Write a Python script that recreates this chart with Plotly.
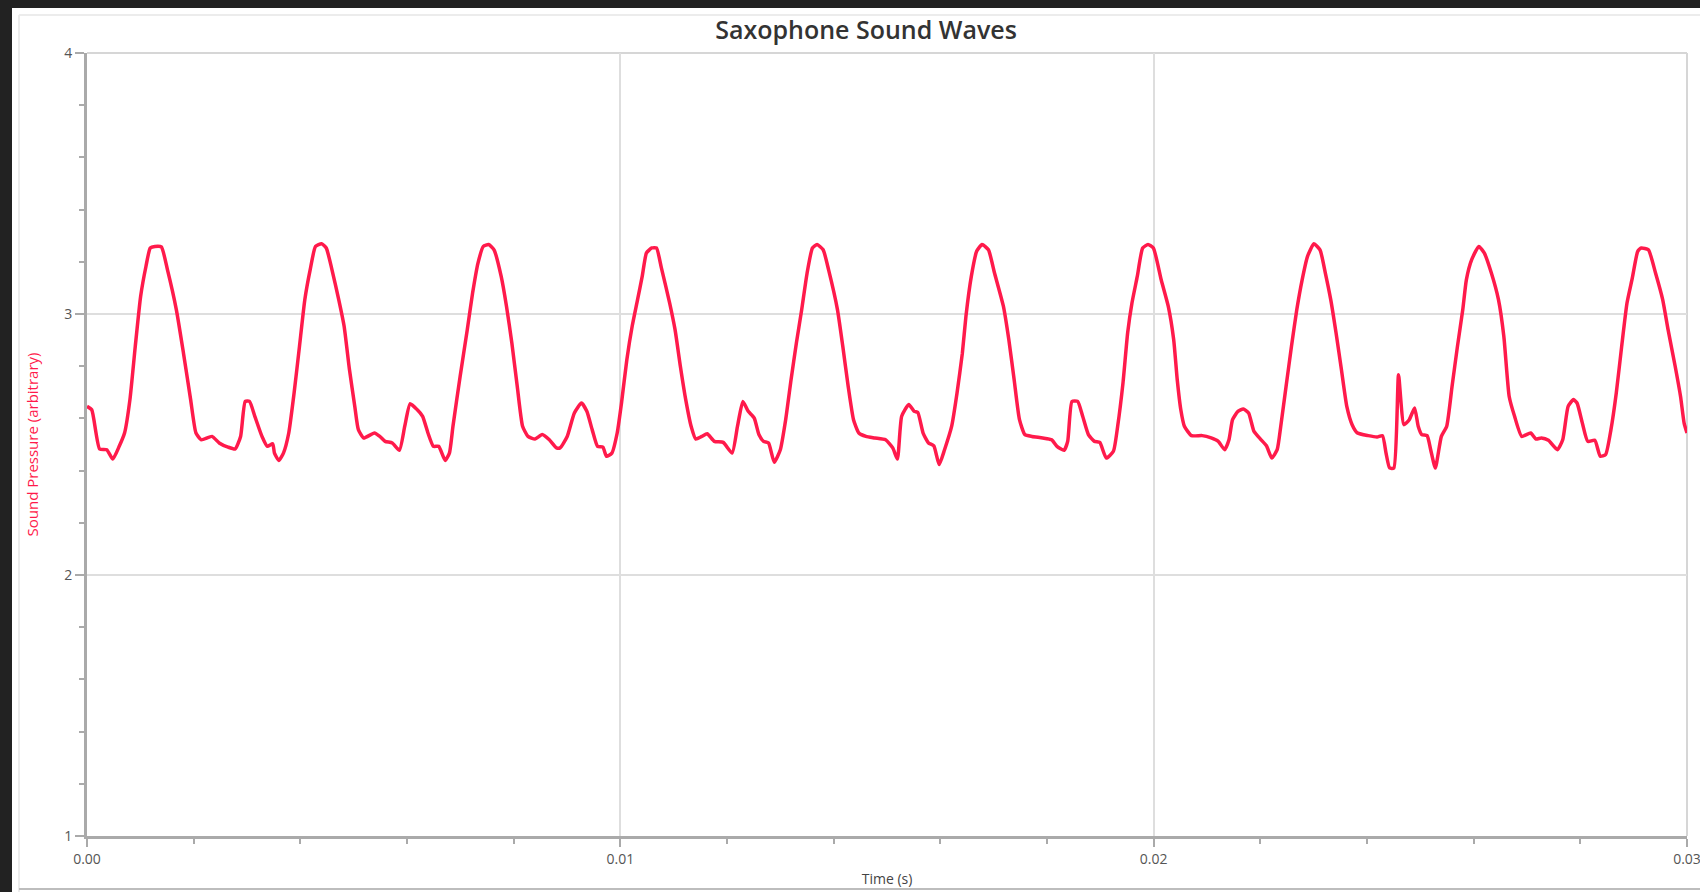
import plotly.graph_objects as go

# ---- data ----
time_ms = [
    0.000, 0.089, 0.236, 0.370, 0.484, 0.604, 0.704, 0.805, 0.905, 1.006, 1.106, 1.186, 1.273, 1.394, 1.508,
    1.675, 1.809, 1.943, 2.043, 2.143, 2.344, 2.478, 2.645, 2.779, 2.880, 2.967, 3.047, 3.147, 3.281, 3.381,
    3.482, 3.515, 3.596, 3.683, 3.783, 3.883, 3.984, 4.084, 4.185, 4.285, 4.399, 4.486, 4.586, 4.720, 4.821,
    4.921, 5.021, 5.088, 5.189, 5.389, 5.490, 5.590, 5.724, 5.858, 5.958, 6.059, 6.193, 6.293, 6.393, 6.494,
    6.594, 6.715, 6.795, 6.862, 6.996, 7.130, 7.230, 7.331, 7.431, 7.531, 7.632, 7.766, 7.866, 7.966, 8.067,
    8.167, 8.268, 8.401, 8.535, 8.669, 8.803, 8.870, 9.004, 9.138, 9.271, 9.372, 9.472, 9.573, 9.673, 9.740,
    9.841, 9.941,
    10.022, 10.122, 10.222, 10.323, 10.410, 10.490, 10.590, 10.677, 10.771, 10.925, 11.026, 11.126, 11.226,
    11.327, 11.414, 11.527, 11.628, 11.762, 11.929, 12.096, 12.197, 12.297, 12.398, 12.511, 12.598, 12.685,
    12.779, 12.886, 13.000, 13.100, 13.201, 13.301, 13.401, 13.502, 13.602, 13.689, 13.803, 13.904, 14.071,
    14.171, 14.272, 14.372, 14.472, 14.606, 14.774, 14.974, 15.108, 15.195, 15.275, 15.409, 15.510, 15.577,
    15.677, 15.778, 15.878, 15.978, 16.079, 16.213, 16.313, 16.413, 16.480, 16.581, 16.681, 16.782, 16.902,
    17.016, 17.183, 17.284, 17.384, 17.484, 17.585, 17.719, 17.919, 18.087, 18.187, 18.321, 18.388, 18.468,
    18.575, 18.669, 18.776, 18.890, 18.990, 19.111, 19.245, 19.325, 19.425, 19.512, 19.593, 19.693, 19.794,
    19.894, 19.994,
    20.141, 20.274, 20.375, 20.442, 20.509, 20.576, 20.709, 20.910, 21.078, 21.211, 21.332, 21.412, 21.479,
    21.580, 21.680, 21.780, 21.881, 22.015, 22.115, 22.215, 22.316, 22.383, 22.483, 22.584, 22.684, 22.784,
    22.885, 23.005, 23.119, 23.219, 23.320, 23.420, 23.520, 23.621, 23.721, 23.822, 24.023, 24.190, 24.290,
    24.357, 24.424, 24.504, 24.591, 24.692, 24.792, 24.893, 24.960, 25.026, 25.127, 25.194, 25.281, 25.394,
    25.495, 25.595, 25.696, 25.796, 25.863, 25.963, 26.097, 26.198, 26.332, 26.465, 26.566, 26.666, 26.767,
    26.901, 27.068, 27.168, 27.269, 27.402, 27.570, 27.670, 27.771, 27.871, 27.938, 28.038, 28.139, 28.272,
    28.373, 28.473, 28.574, 28.674, 28.775, 28.875, 28.975, 29.076, 29.143, 29.276, 29.410, 29.544, 29.645,
    29.779, 29.879, 29.946, 30.000,
]

pressure = [
    2.646, 2.633, 2.483, 2.480, 2.444, 2.493, 2.544, 2.672, 2.876, 3.068, 3.183, 3.253, 3.259, 3.257, 3.170,
    3.017, 2.850, 2.672, 2.544, 2.518, 2.531, 2.506, 2.490, 2.483, 2.531, 2.665, 2.665, 2.608, 2.531, 2.493,
    2.503, 2.467, 2.439, 2.467, 2.544, 2.697, 2.876, 3.055, 3.170, 3.259, 3.269, 3.253, 3.176, 3.055, 2.953,
    2.787, 2.646, 2.557, 2.525, 2.544, 2.531, 2.512, 2.506, 2.478, 2.570, 2.656, 2.633, 2.608, 2.544, 2.493,
    2.493, 2.439, 2.467, 2.570, 2.761, 2.940, 3.080, 3.195, 3.259, 3.266, 3.246, 3.144, 3.029, 2.889, 2.723,
    2.570, 2.531, 2.521, 2.538, 2.518, 2.487, 2.487, 2.531, 2.621, 2.659, 2.627, 2.557, 2.493, 2.490, 2.455,
    2.467, 2.544,
    2.659, 2.825, 2.953, 3.055, 3.144, 3.234, 3.253, 3.253, 3.176, 3.042, 2.940, 2.799, 2.672,
    2.570, 2.521, 2.531, 2.541, 2.512, 2.508, 2.467, 2.570, 2.665, 2.627, 2.601, 2.538, 2.512,
    2.506, 2.432, 2.480, 2.595, 2.748, 2.889, 3.017, 3.157, 3.253, 3.266, 3.246, 3.170, 3.017,
    2.876, 2.723, 2.595, 2.544, 2.531, 2.525, 2.518, 2.487, 2.444, 2.608, 2.653, 2.627, 2.623,
    2.544, 2.506, 2.495, 2.423, 2.480, 2.570, 2.697, 2.850, 2.991, 3.144, 3.240, 3.266, 3.246,
    3.157, 3.029, 2.902, 2.748, 2.595, 2.538, 2.531, 2.525, 2.518, 2.493, 2.478, 2.512, 2.665,
    2.665, 2.608, 2.538, 2.512, 2.508, 2.448, 2.474, 2.570, 2.736, 2.927, 3.042, 3.144, 3.253,
    3.266, 3.253,
    3.131, 3.029, 2.902, 2.748, 2.633, 2.570, 2.534, 2.534, 2.525, 2.512, 2.480, 2.518, 2.595,
    2.627, 2.636, 2.621, 2.550, 2.518, 2.495, 2.448, 2.480, 2.570, 2.723, 2.876, 3.017, 3.131,
    3.221, 3.269, 3.246, 3.157, 3.055, 2.927, 2.787, 2.646, 2.576, 2.544, 2.534, 2.529, 2.534,
    2.467, 2.410, 2.410, 2.767, 2.576, 2.595, 2.640, 2.570, 2.538, 2.534, 2.480, 2.410, 2.531,
    2.570, 2.723, 2.876, 3.017, 3.131, 3.208, 3.259, 3.234, 3.157, 3.055, 2.914, 2.684, 2.608,
    2.531, 2.544, 2.521, 2.525, 2.516, 2.480, 2.518, 2.646, 2.672, 2.659, 2.582, 2.512, 2.516,
    2.455, 2.461, 2.557, 2.697, 2.876, 3.042, 3.138, 3.240, 3.253, 3.246, 3.157, 3.055, 2.940,
    2.799, 2.684, 2.582, 2.544,
]

time_s = [t / 1000.0 for t in time_ms]

x_ticks = [0.0, 0.01, 0.02, 0.03]
y_ticks = [1, 2, 3, 4]

title_text = "Saxophone Sound Waves"
x_title = "Time (s)"
y_title = "Sound Pressure (arbitrary)"

LINE_COLOR = "#ff1a4b"
W, H = 1700, 892
L, R, T, B = 87, 13, 53, 56

fig = go.Figure()
fig.add_trace(go.Scatter(
    x=time_s, y=pressure, mode="lines",
    line=dict(color=LINE_COLOR, width=3.5, shape="spline", smoothing=0.5),
    hoverinfo="x+y", showlegend=False,
))

def px_to_paper_x(px):
    return (px - L) / (W - L - R)

def px_to_paper_y(py):
    return (H - B - py) / (H - T - B)

shapes = [
    # dark frame strips of the screenshot
    dict(type="rect", xref="paper", yref="paper", layer="below",
         x0=px_to_paper_x(0), x1=px_to_paper_x(W), y0=px_to_paper_y(8), y1=px_to_paper_y(0),
         fillcolor="#222222", line=dict(width=0)),
    dict(type="rect", xref="paper", yref="paper", layer="below",
         x0=px_to_paper_x(0), x1=px_to_paper_x(12), y0=px_to_paper_y(H), y1=px_to_paper_y(0),
         fillcolor="#222222", line=dict(width=0)),
    # faint panel border
    dict(type="line", xref="paper", yref="paper", layer="below",
         x0=px_to_paper_x(19), x1=px_to_paper_x(W), y0=px_to_paper_y(15), y1=px_to_paper_y(15),
         line=dict(color="#ececec", width=2)),
    dict(type="line", xref="paper", yref="paper", layer="below",
         x0=px_to_paper_x(19), x1=px_to_paper_x(19), y0=px_to_paper_y(15), y1=px_to_paper_y(H),
         line=dict(color="#ececec", width=2)),
    dict(type="line", xref="paper", yref="paper", layer="below",
         x0=px_to_paper_x(19), x1=px_to_paper_x(W), y0=px_to_paper_y(889), y1=px_to_paper_y(889),
         line=dict(color="#bdbdbd", width=2)),
    # top and right frame of plot area
    dict(type="line", xref="paper", yref="paper", layer="below",
         x0=0, x1=1, y0=1, y1=1, line=dict(color="#d6d6d6", width=2)),
    dict(type="line", xref="paper", yref="paper", layer="below",
         x0=1, x1=1, y0=0, y1=1, line=dict(color="#d6d6d6", width=2)),
]

fig.update_layout(
    width=W, height=H,
    margin=dict(l=L, r=R, t=T, b=B, pad=0, autoexpand=False),
    paper_bgcolor="white", plot_bgcolor="white",
    font=dict(family="Open Sans, sans-serif", color="#555555", size=14),
    title=dict(text=title_text, x=866 / W, xanchor="center", xref="container",
               y=1 - 30 / H, yanchor="middle", yref="container",
               font=dict(family="Open Sans, sans-serif", size=25, color="#333333", weight=600)),
    shapes=shapes,
    xaxis=dict(
        range=[0, 0.03], tickvals=x_ticks, tickformat=".2f",
        automargin=False, ticklabeloverflow="allow",
        showgrid=True, gridcolor="#dedede", gridwidth=2,
        showline=True, linecolor="#aaaaaa", linewidth=3,
        ticks="outside", ticklen=8, tickwidth=2, tickcolor="#aaaaaa",
        minor=dict(dtick=0.002, ticks="outside", ticklen=5, tickwidth=2, tickcolor="#aaaaaa", showgrid=False),
        tickfont=dict(size=14, color="#555555"),
        title=dict(text=x_title, standoff=8, font=dict(size=14, color="#444444")),
        zeroline=False, fixedrange=True,
    ),
    yaxis=dict(
        range=[1, 4], tickvals=y_ticks,
        automargin=False, ticklabeloverflow="allow",
        showgrid=True, gridcolor="#dedede", gridwidth=2,
        showline=True, linecolor="#aaaaaa", linewidth=3,
        ticks="outside", ticklen=9, tickwidth=2, tickcolor="#aaaaaa",
        minor=dict(dtick=0.2, ticks="outside", ticklen=5, tickwidth=2, tickcolor="#aaaaaa", showgrid=False),
        tickfont=dict(size=14, color="#555555"),
        title=dict(text=y_title, standoff=22, font=dict(size=15, color=LINE_COLOR)),
        zeroline=False, fixedrange=True,
    ),
)

fig.write_html("out.html")
